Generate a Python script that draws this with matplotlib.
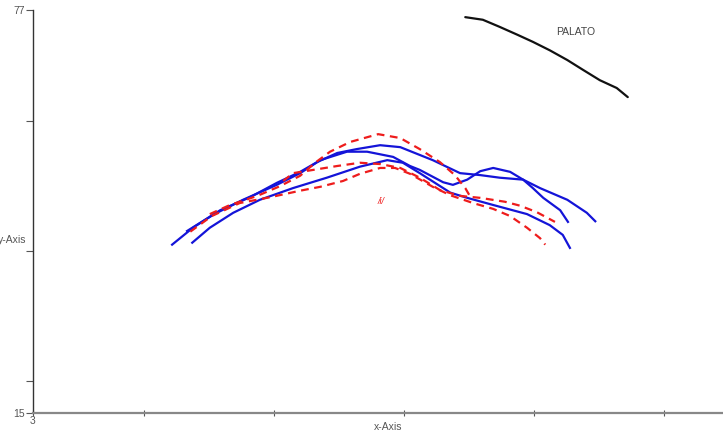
import matplotlib.pyplot as plt

plt.rcParams['font.family'] = ['Liberation Sans', 'DejaVu Sans']

# palate contour
palato_x = [69.5, 72.2, 74.8, 77.5, 79.9, 82.5, 85.2, 87.6, 90.2, 92.8, 94.5]
palato_y = [75.9, 75.5, 74.4, 73.2, 72.1, 70.8, 69.3, 67.8, 66.2, 65.0, 63.6]

# blue tongue contours (solid)
blue1_x = [24.4, 27.6, 31.8, 36.4, 40.5, 44.1, 46.7, 49.8, 52.8, 56.4, 59.5, 61.0,
           64.5, 68.7, 71.8, 74.8, 78.4, 81.0, 85.2, 88.2, 89.5]
blue1_y = [40.9, 43.5, 46.2, 48.2, 50.4, 52.1, 53.6, 55.0, 55.6, 56.2, 55.9, 55.3,
           53.9, 51.9, 51.6, 51.2, 50.9, 49.6, 47.8, 45.8, 44.5]
blue2_x = [26.7, 30.7, 35.3, 40.5, 44.1, 47.2, 51.3, 54.4, 58.4, 61.0, 62.5, 66.1,
           67.6, 69.8, 71.8, 73.8, 76.4, 78.4, 79.9, 81.5, 84.1, 85.3]
blue2_y = [43.0, 45.5, 47.8, 50.1, 51.9, 53.9, 55.2, 55.2, 54.4, 53.0, 52.4, 50.5,
           50.1, 50.9, 52.2, 52.7, 52.1, 50.9, 49.6, 48.1, 46.2, 44.4]
blue3_x = [27.5, 30.2, 33.8, 37.9, 43.0, 48.2, 53.3, 57.5, 59.9, 62.5, 67.2, 69.8,
           73.8, 79.0, 82.5, 84.5, 85.6]
blue3_y = [41.2, 43.5, 45.8, 47.8, 49.6, 51.2, 52.9, 53.9, 53.5, 51.9, 48.9, 48.1,
           47.0, 45.6, 43.9, 42.4, 40.4]

# red /i/ contours (dashed)
red1_x = [30.2, 33.3, 37.5, 41.0, 44.1, 46.4, 48.7, 51.8, 56.1, 59.5, 62.5, 65.6,
          67.9, 69.5, 70.2]
red1_y = [45.6, 47.0, 48.4, 49.9, 51.5, 53.5, 55.2, 56.7, 57.9, 57.3, 55.6, 53.6,
          51.6, 49.6, 48.4]
red2_x = [41.5, 43.0, 46.1, 49.8, 53.3, 56.4, 59.5, 62.5, 65.6, 68.7, 71.8, 75.6,
          77.9, 80.5, 83.3]
red2_y = [50.7, 51.9, 52.4, 53.0, 53.5, 53.3, 52.7, 51.2, 49.3, 48.4, 48.1, 47.5,
          46.9, 45.9, 44.4]
red3_x = [27.2, 30.5, 34.8, 39.5, 44.1, 47.2, 50.7, 53.3, 56.4, 58.7, 61.0, 64.5,
          67.2, 70.7, 73.8, 76.4, 79.0, 81.0, 81.8]
red3_y = [42.9, 45.3, 47.3, 48.2, 49.2, 49.8, 50.7, 51.8, 52.7, 52.7, 51.8, 49.8,
          48.5, 47.3, 46.4, 45.3, 43.5, 41.9, 40.9]

x_min, x_max = 3, 109.15
y_min, y_max = 15, 77
x_ticks = [3, 20, 40, 60, 80, 100]
y_ticks = [15, 20, 40, 60, 77]


def main():
    fig = plt.figure(figsize=(7.23, 4.46), dpi=100)
    ax = fig.add_axes([33 / 723, 33 / 446, 690 / 723, 403 / 446])

    ax.plot(palato_x, palato_y, color='#111111', lw=1.6, solid_capstyle='round')

    for xs, ys in [(blue1_x, blue1_y), (blue2_x, blue2_y), (blue3_x, blue3_y)]:
        ax.plot(xs, ys, color='#1414d8', lw=1.6, solid_joinstyle='round')

    for xs, ys in [(red1_x, red1_y), (red2_x, red2_y), (red3_x, red3_y)]:
        ax.plot(xs, ys, color='#ee1c1c', lw=1.6, dashes=(3.5, 2.5))

    ax.text(86.5, 73.6, 'PALATO', fontsize=7.5, color='#444444',
            ha='center', va='center')
    ax.text(56.5, 47.6, '/i/', fontsize=6.5, color='#ee1c1c', style='italic',
            ha='center', va='center')

    ax.set_xlim(x_min, x_max)
    ax.set_ylim(y_min, y_max)

    ax.set_xticks(x_ticks)
    ax.set_xticklabels(['3'] + [''] * (len(x_ticks) - 1))
    ax.set_yticks(y_ticks)
    ax.set_yticklabels(['15', '', '', '', '77'])

    ax.tick_params(axis='x', direction='inout', length=4, width=0.8,
                   colors='#555555', labelsize=7.5, pad=0)
    ax.tick_params(axis='y', direction='out', length=5, width=0.8,
                   colors='#555555', labelsize=7.5, pad=1)

    for side in ['top', 'right']:
        ax.spines[side].set_visible(False)
    ax.spines['left'].set_color('#333333')
    ax.spines['left'].set_linewidth(1.0)
    ax.spines['bottom'].set_color('#888888')
    ax.spines['bottom'].set_linewidth(1.6)

    ax.text((388 - 33) / 690, -0.035, 'x-Axis', transform=ax.transAxes,
            fontsize=7.5, color='#555555', ha='center', va='center')
    # the reference clips this label at the left edge as well
    ax.text(-0.009, 0.429, 'y-Axis', transform=ax.transAxes,
            fontsize=7.5, color='#555555', ha='right', va='center')

    fig.savefig('out.png', dpi=100)


if __name__ == '__main__':
    main()
